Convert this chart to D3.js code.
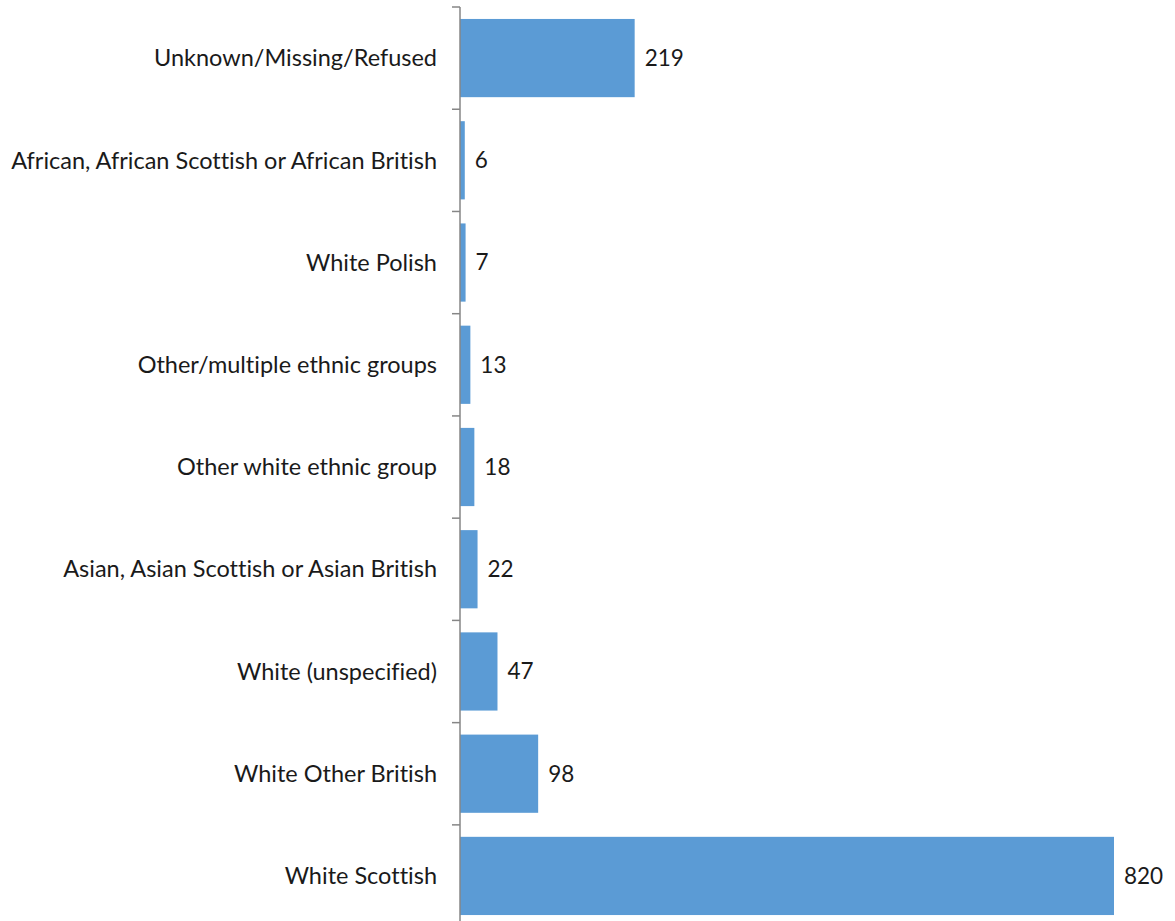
<!DOCTYPE html>
<html><head><meta charset="utf-8">
<script src="https://cdn.jsdelivr.net/npm/d3@7"></script>
<style>body{margin:0;background:#fff} text{font-variant-ligatures:none;font-feature-settings:"liga" 0,"clig" 0;}</style>
</head><body>
<svg id="c" width="1175" height="921"></svg>
<script>
const categories = ["Unknown/Missing/Refused","African, African Scottish or African British","White Polish","Other/multiple ethnic groups","Other white ethnic group","Asian, Asian Scottish or Asian British","White (unspecified)","White Other British","White Scottish"];
const values = [219,6,7,13,18,22,47,98,820];

const svg = d3.select("#c");
const x = d3.scaleLinear().domain([0,820]).range([460,1114]);
const y = d3.scaleBand().domain(categories).range([7,927]).paddingInner(0.235).paddingOuter(0.117);
const font = "Lato, 'Open Sans', sans-serif";

svg.selectAll("rect.bar").data(categories).enter().append("rect")
  .attr("x", x(0)).attr("y", d=>y(d))
  .attr("width", (d,i)=>x(values[i])-x(0)).attr("height", y.bandwidth())
  .attr("fill","#5B9BD5");

svg.selectAll("text.val").data(categories).enter().append("text")
  .attr("x",(d,i)=>x(values[i])+10).attr("y",d=>y(d)+y.bandwidth()/2)
  .attr("dy","0.35em").attr("font-family",font).attr("font-size",22.5).attr("fill","#1a1a1a")
  .text((d,i)=>values[i]);

svg.selectAll("text.cat").data(categories).enter().append("text")
  .attr("x",437).attr("y",d=>y(d)+y.bandwidth()/2)
  .attr("dy","0.35em").attr("text-anchor","end").attr("font-family",font).attr("font-size",23.5).attr("fill","#1a1a1a")
  .text(d=>d);

// axis line and ticks at band boundaries
const step = y.step();
const bounds = d3.range(categories.length+1).map(i=>7+i*step);
svg.append("line").attr("x1",460).attr("x2",460).attr("y1",7).attr("y2",927).attr("stroke","#868686").attr("stroke-width",1.5);
svg.selectAll("line.tick").data(bounds).enter().append("line")
  .attr("x1",452).attr("x2",460).attr("y1",d=>d).attr("y2",d=>d).attr("stroke","#868686").attr("stroke-width",1.5);
</script>
</body></html>
